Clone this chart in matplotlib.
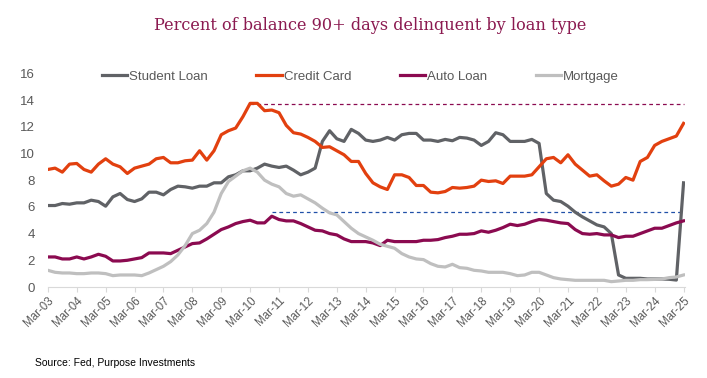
import matplotlib
matplotlib.use('Agg')
from matplotlib import pyplot as plt

# Quarterly, Mar-03 .. Mar-25 (89 quarters)
student_loan = [6.1, 6.1, 6.25, 6.2, 6.3, 6.3, 6.5, 6.4, 6.05, 6.75,
                7.0, 6.55, 6.4, 6.6, 7.1, 7.1, 6.9, 7.3, 7.55, 7.5,
                7.4, 7.55, 7.55, 7.8, 7.8, 8.25, 8.4, 8.7, 8.7, 8.9,
                9.2, 9.05, 8.95, 9.05, 8.75, 8.4, 8.6, 8.9, 10.9, 11.7,
                11.1, 10.9, 11.8, 11.5, 11.0, 10.9, 11.0, 11.2, 11.0, 11.4,
                11.5, 11.5, 11.0, 11.0, 10.9, 11.05, 10.95, 11.2, 11.15, 11.0,
                10.6, 10.9, 11.55, 11.4, 10.9, 10.9, 10.9, 11.05, 10.75, 7.0,
                6.5, 6.4, 6.05, 5.6, 5.25, 4.95, 4.65, 4.5, 4.0, 0.9,
                0.65, 0.65, 0.65, 0.6, 0.6, 0.6, 0.58, 0.52, 7.8]
credit_card = [8.8, 8.9, 8.6, 9.2, 9.25, 8.8, 8.6, 9.2, 9.6, 9.2,
               9.0, 8.5, 8.9, 9.05, 9.2, 9.6, 9.7, 9.3, 9.3, 9.45,
               9.5, 10.2, 9.5, 10.2, 11.4, 11.7, 11.9, 12.75, 13.75, 13.75,
               13.2, 13.25, 13.05, 12.1, 11.55, 11.45, 11.2, 10.9, 10.45, 10.5,
               10.2, 9.9, 9.4, 9.4, 8.5, 7.8, 7.5, 7.3, 8.4, 8.4,
               8.2, 7.6, 7.6, 7.1, 7.05, 7.15, 7.45, 7.4, 7.45, 7.55,
               8.0, 7.9, 7.95, 7.75, 8.3, 8.3, 8.3, 8.4, 9.0, 9.6,
               9.7, 9.3, 9.9, 9.2, 8.75, 8.3, 8.4, 7.95, 7.55, 7.7,
               8.2, 8.0, 9.4, 9.7, 10.6, 10.9, 11.1, 11.3, 12.25]
auto_loan = [2.25, 2.25, 2.1, 2.1, 2.25, 2.1, 2.25, 2.45, 2.3, 1.95,
             1.95, 2.0, 2.1, 2.2, 2.55, 2.55, 2.55, 2.5, 2.75, 3.0,
             3.25, 3.3, 3.6, 3.95, 4.3, 4.5, 4.75, 4.9, 5.0, 4.8,
             4.8, 5.3, 5.05, 4.95, 4.95, 4.75, 4.5, 4.25, 4.2, 4.0,
             3.9, 3.6, 3.4, 3.4, 3.4, 3.3, 3.1, 3.5, 3.4, 3.4,
             3.4, 3.4, 3.5, 3.5, 3.55, 3.7, 3.8, 3.95, 3.95, 4.0,
             4.2, 4.1, 4.25, 4.45, 4.7, 4.6, 4.7, 4.9, 5.05, 5.0,
             4.9, 4.8, 4.75, 4.3, 4.0, 3.95, 4.0, 3.9, 3.9, 3.7,
             3.8, 3.8, 4.0, 4.2, 4.4, 4.4, 4.6, 4.8, 4.95]
mortgage = [1.25, 1.1, 1.05, 1.05, 1.0, 1.0, 1.05, 1.05, 1.0, 0.85,
            0.9, 0.9, 0.9, 0.85, 1.05, 1.3, 1.55, 1.9, 2.4, 3.1,
            4.0, 4.25, 4.75, 5.6, 7.0, 7.9, 8.3, 8.7, 8.9, 8.6,
            8.0, 7.7, 7.5, 7.0, 6.8, 6.9, 6.6, 6.3, 5.9, 5.55,
            5.4, 4.9, 4.4, 4.0, 3.75, 3.5, 3.2, 3.05, 2.9, 2.5,
            2.25, 2.1, 2.05, 1.75, 1.55, 1.5, 1.7, 1.45, 1.4, 1.25,
            1.2, 1.1, 1.1, 1.1, 1.0, 0.85, 0.9, 1.1, 1.1, 0.9,
            0.7, 0.6, 0.55, 0.5, 0.5, 0.5, 0.5, 0.5, 0.4, 0.45,
            0.5, 0.5, 0.55, 0.55, 0.57, 0.6, 0.7, 0.75, 0.9]
year_labels = ['Mar-%02d' % y for y in range(3, 26)]

cc_peak = 13.7
cc_peak_start = 28   # Mar-10
auto_peak = 5.6
auto_peak_start = 31  # Dec-10

grey_txt = '#595959'
quarters = list(range(len(student_loan)))

fig = plt.figure(figsize=(7.07, 3.78), dpi=100)
ax = fig.add_axes([47.5 / 707, 1 - 287 / 378, (685 - 47.5) / 707, (287 - 73.3) / 378])

ax.hlines(cc_peak, cc_peak_start, quarters[-1], colors='#8B0A50', linestyles=(0, (3, 2.5)), linewidth=0.9)
ax.hlines(auto_peak, auto_peak_start, quarters[-1], colors='#2050A8', linestyles=(0, (3, 2.5)), linewidth=0.9)

ax.plot(quarters, student_loan, color='#606266', lw=2.3, label='Student Loan')
ax.plot(quarters, credit_card, color='#E2400F', lw=2.3, label='Credit Card')
ax.plot(quarters, auto_loan, color='#8B0A50', lw=2.3, label='Auto Loan')
ax.plot(quarters, mortgage, color='#BFBFBF', lw=2.3, label='Mortgage')

ax.set_xlim(-0.05, 88.2)
ax.set_ylim(0, 16)
ax.set_yticks(range(0, 17, 2))
ax.set_xticks(range(0, 89, 4))
ax.set_xticklabels(year_labels, rotation=45, ha='right', va='top', rotation_mode='anchor')

for s in ['top', 'right', 'left']:
    ax.spines[s].set_visible(False)
ax.spines['bottom'].set_color('#D9D9D9')
ax.tick_params(axis='y', length=0, pad=9, labelsize=9.5, labelcolor=grey_txt)
ax.tick_params(axis='x', length=3.5, color='#D9D9D9', pad=2, labelsize=8.3, labelcolor=grey_txt)
for lab in ax.get_xticklabels() + ax.get_yticklabels():
    lab.set_family('Liberation Sans')

leg = ax.legend(loc='center left', bbox_to_anchor=(0.077, 0.983), ncol=4, frameon=False,
                handlelength=1.9, handletextpad=0.15, columnspacing=3.7,
                prop={'family': 'Liberation Sans', 'size': 9.5}, borderaxespad=0)
for t in leg.get_texts():
    t.set_color(grey_txt)

fig.text(370 / 707, 1 - 25 / 378, 'Percent of balance 90+ days delinquent by loan type',
         ha='center', va='center', fontsize=11.6, color='#8B1A50', family='DejaVu Serif')
fig.text(35 / 707, 1 - 363 / 378, 'Source: Fed, Purpose Investments',
         ha='left', va='center', fontsize=7.5, color='#000000', family='Liberation Sans')

plt.savefig('out.png', dpi=100)
